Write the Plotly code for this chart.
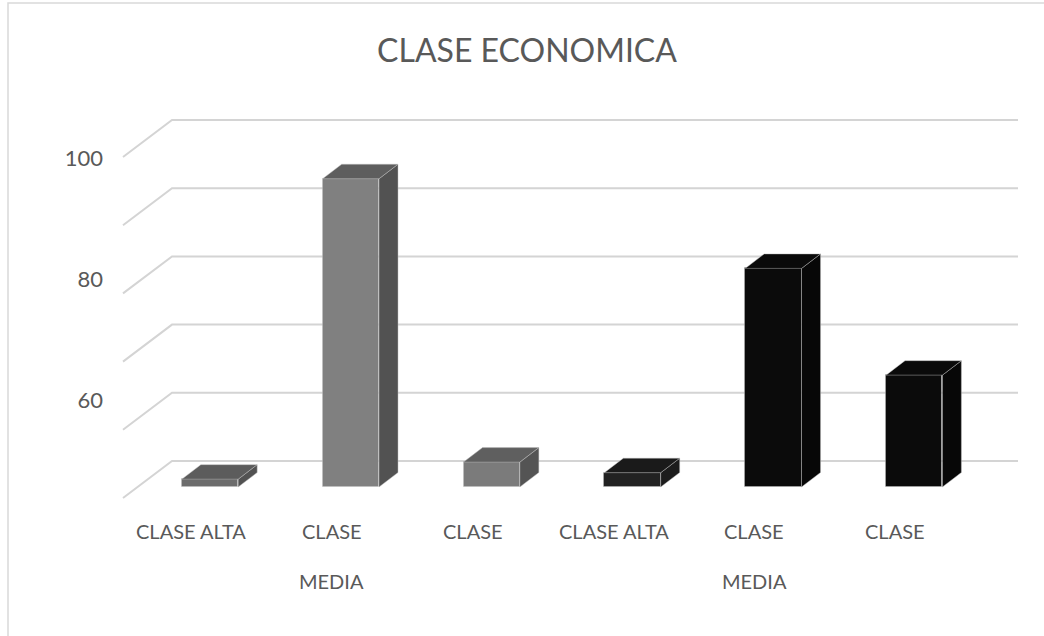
import plotly.graph_objects as go

# ---------------- data ----------------
label_line1 = ["CLASE ALTA", "CLASE", "CLASE", "CLASE ALTA", "CLASE", "CLASE"]
label_line2 = ["", "MEDIA", "", "", "MEDIA", ""]
values = [2.3, 90.4, 7.3, 4.2, 64.1, 32.8]
grid_values = [0, 20, 40, 60, 80, 100]
y_label_values = [60, 80, 100]
title_text = "CLASE ECONOMICA"

# ---------------- styles ----------------
front_colors = ["#6c6c6c", "#808080", "#7b7b7b", "#222222", "#0b0b0b", "#0b0b0b"]
side_colors = ["#525252", "#525252", "#545454", "#1c1c1c", "#070707", "#070707"]
top_colors = ["#5c5c5c", "#5e5e5e", "#5f5f5f", "#1a1a1a", "#0a0a0a", "#0a0a0a"]
edge = "rgba(190,190,190,0.45)"
txt = "#595959"
FONT = "Lato, sans-serif"

W, H = 1044, 636
L, R, T, B = 120, 1025, 110, 505
X0PIX, XSTEP = 210.0, 140.84   # pixel of category 0, pixels per category
Y0PIX, YSTEP = 487.0, 3.41     # pixel of value 0, pixels per unit
xr = [(L - X0PIX) / XSTEP, (R - X0PIX) / XSTEP]
yr = [(Y0PIX - B) / YSTEP, (Y0PIX - T) / YSTEP]

half = 0.2
dx = 19 / XSTEP
dy = 14.5 / YSTEP

# perspective of the walls
back_off = (Y0PIX - 461) / YSTEP
front_off = (Y0PIX - 498) / YSTEP
back_x0 = (172 - X0PIX) / XSTEP
back_x1 = (1018 - X0PIX) / XSTEP
front_x = (123 - X0PIX) / XSTEP

fig = go.Figure()

# front faces
xs = list(range(len(values)))
fig.add_trace(go.Bar(
    x=xs, y=values, width=2 * half,
    marker=dict(color=front_colors, line=dict(color=edge, width=1)),
    hoverinfo="skip", showlegend=False,
))

# side and top faces
for i, v in enumerate(values):
    c = i
    sx = [c + half, c + half + dx, c + half + dx, c + half, c + half]
    sy = [0, dy, v + dy, v, 0]
    fig.add_trace(go.Scatter(x=sx, y=sy, fill="toself", mode="lines",
                             fillcolor=side_colors[i],
                             line=dict(color=edge, width=1),
                             hoverinfo="skip", showlegend=False))
    tx = [c - half, c + half, c + half + dx, c - half + dx, c - half]
    ty = [v, v, v + dy, v + dy, v]
    fig.add_trace(go.Scatter(x=tx, y=ty, fill="toself", mode="lines",
                             fillcolor=top_colors[i],
                             line=dict(color=edge, width=1),
                             hoverinfo="skip", showlegend=False))

# gridlines (below the bars)
shapes = []
for g in grid_values:
    path = (f"M {front_x},{g + front_off} L {back_x0},{g + back_off} "
            f"L {back_x1},{g + back_off}")
    shapes.append(dict(type="path", path=path, xref="x", yref="y",
                       line=dict(color="#d4d4d4", width=2), layer="below"))

# chart border (left & top)
def px_to_paper_x(p):
    return (p - L) / (R - L)

def px_to_paper_y(p):
    return (B - p) / (B - T)

shapes.append(dict(type="path",
                   path=f"M {px_to_paper_x(8)},{px_to_paper_y(636)} L {px_to_paper_x(8)},{px_to_paper_y(3)} L {px_to_paper_x(1044)},{px_to_paper_y(3)}",
                   xref="paper", yref="paper",
                   line=dict(color="#d9d9d9", width=1.5)))

# category labels
annotations = []
for i in xs:
    annotations.append(dict(x=i, xref="x", xshift=-19, y=px_to_paper_y(531), yref="paper",
                            text=label_line1[i], showarrow=False, yanchor="middle",
                            xanchor="center", font=dict(family=FONT, size=20, color=txt)))
    if label_line2[i]:
        annotations.append(dict(x=i, xref="x", xshift=-19, y=px_to_paper_y(580.5), yref="paper",
                                text=label_line2[i], showarrow=False, yanchor="middle",
                                xanchor="center", font=dict(family=FONT, size=20, color=txt)))

# value labels axis (as positioned in the original)
ppu = (400 - 158.5) / 40
y2r = [100 - (B - 158.5) / ppu, 100 + (158.5 - T) / ppu]
fig.add_trace(go.Scatter(x=[xr[0]], y=[y2r[0]], yaxis="y2", mode="markers",
                         marker=dict(opacity=0), hoverinfo="skip", showlegend=False))

fig.update_layout(
    width=W, height=H, autosize=False,
    margin=dict(l=L, r=W - R, t=T, b=H - B, pad=0),
    paper_bgcolor="white", plot_bgcolor="white",
    title=dict(text=title_text, x=527 / W, xanchor="center", xref="container",
               y=1 - 51 / H, yanchor="middle", yref="container",
               font=dict(family=FONT, size=32, color=txt)),
    xaxis=dict(range=xr, showgrid=False, zeroline=False, showticklabels=False,
               showline=False, ticks=""),
    yaxis=dict(range=yr, showgrid=False, zeroline=False, showticklabels=False,
               showline=False, ticks=""),
    yaxis2=dict(range=y2r, overlaying="y", side="left", showgrid=False, zeroline=False,
                tickvals=y_label_values, ticks="", showline=False,
                ticklabelstandoff=16,
                tickfont=dict(family=FONT, size=22, color=txt)),
    shapes=shapes, annotations=annotations,
    bargap=0,
)

fig.write_html("out.html")
